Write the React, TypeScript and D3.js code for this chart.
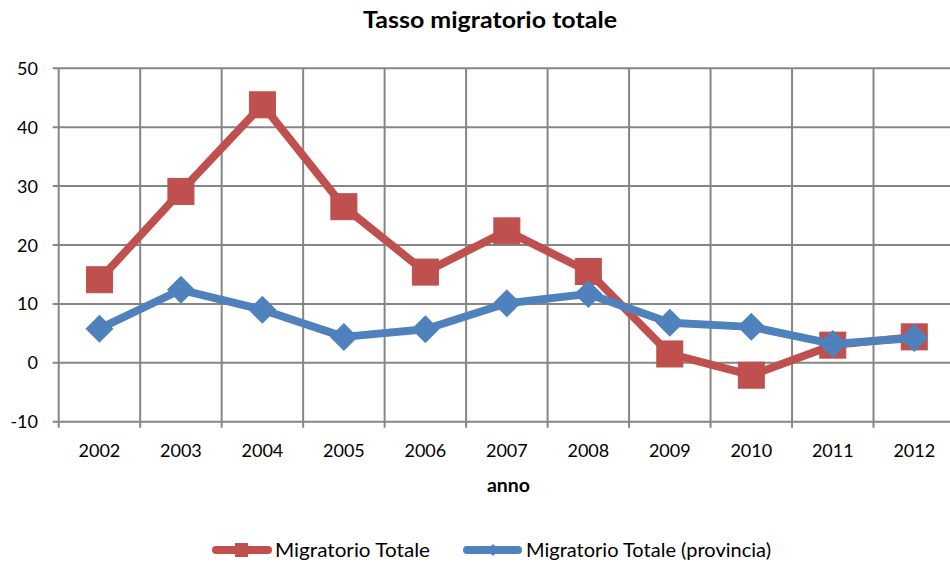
import React from "react";
import * as d3 from "d3";

const years = ["2002","2003","2004","2005","2006","2007","2008","2009","2010","2011","2012"];
const migratorioTotale = [14.1, 29.1, 43.8, 26.5, 15.4, 22.4, 15.5, 1.5, -2.1, 3.0, 4.4];
const migratorioProvincia = [5.8, 12.4, 9.0, 4.4, 5.7, 10.1, 11.7, 6.8, 6.1, 3.2, 4.2];
const yTicks = [-10, 0, 10, 20, 30, 40, 50];

const W = 950, H = 563;
const left = 58.7, right = 955, top = 68.3, bottom = 421.7;
const RED = "#C0504D", BLUE = "#4F81BD";
const FONT = "Lato, 'Open Sans', sans-serif";

export default function App() {
  const x = d3.scaleBand<string>().domain(years).range([left, right]);
  const y = d3.scaleLinear().domain([-10, 50]).range([bottom, top]);
  const cx = (d: string) => (x(d) as number) + x.bandwidth() / 2;
  const line = d3.line<number>().x((_, i) => cx(years[i])).y((v) => y(v));
  const boundaries = years.map((d) => x(d) as number).concat([right]);
  const grid = "#868686";
  const sq = 26, dm = 14;
  return (
    <svg width={W} height={H} style={{ position: "absolute", left: 0, top: 0, fontFamily: FONT }}>
      <rect width={W} height={H} fill="#fff" />
      <text x={363} y={28} fontWeight="bold" fontSize={22} fill="#000" textLength={254} lengthAdjust="spacingAndGlyphs">Tasso migratorio totale</text>
      {yTicks.map((t) => (
        <g key={t}>
          <line x1={left - 6} x2={right} y1={y(t)} y2={y(t)} stroke={grid} strokeWidth={2} />
          <text x={38} y={y(t) + 6.5} textAnchor="end" fontSize={18} fill="#000">{t}</text>
        </g>
      ))}
      {boundaries.map((b, i) => (
        <line key={i} x1={b} x2={b} y1={top} y2={bottom + 6} stroke={grid} strokeWidth={2} />
      ))}
      {years.map((d) => (
        <text key={d} x={cx(d)} y={457} textAnchor="middle" fontSize={18} fill="#000">{d}</text>
      ))}
      <text x={487} y={492} fontWeight="bold" fontSize={19} fill="#000" textLength={43} lengthAdjust="spacingAndGlyphs">anno</text>

      <path d={line(migratorioTotale) || ""} fill="none" stroke={RED} strokeWidth={8} strokeLinejoin="round" strokeLinecap="round" />
      {migratorioTotale.map((v, i) => (
        <rect key={i} x={cx(years[i]) - sq / 2} y={y(v) - sq / 2} width={sq} height={sq} fill={RED} stroke="#B9504D" strokeWidth={1} />
      ))}
      <path d={line(migratorioProvincia) || ""} fill="none" stroke={BLUE} strokeWidth={8} strokeLinejoin="round" strokeLinecap="round" />
      {migratorioProvincia.map((v, i) => {
        const px = cx(years[i]), py = y(v);
        return <path key={i} d={`M${px},${py - dm}L${px + dm},${py}L${px},${py + dm}L${px - dm},${py}Z`} fill={BLUE} />;
      })}

      <g>
        <line x1={216} x2={268} y1={550} y2={550} stroke={RED} strokeWidth={8} strokeLinecap="round" />
        <rect x={235} y={543} width={13} height={14} fill={RED} />
        <text x={275} y={557} fontSize={19} fill="#000" textLength={155} lengthAdjust="spacingAndGlyphs">Migratorio Totale</text>
        <line x1={467} x2={518} y1={550} y2={550} stroke={BLUE} strokeWidth={8} strokeLinecap="round" />
        <path d="M493,544L499,550L493,556L487,550Z" fill={BLUE} />
        <text x={526} y={557} fontSize={19} fill="#000" textLength={245} lengthAdjust="spacingAndGlyphs">Migratorio Totale (provincia)</text>
      </g>
    </svg>
  );
}
